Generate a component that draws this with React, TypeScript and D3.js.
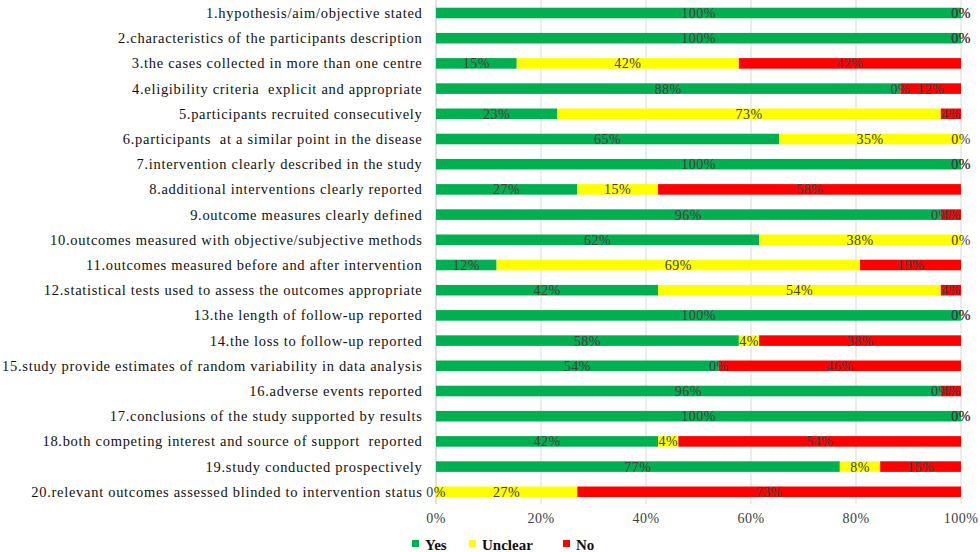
import React from "react";
import * as d3 from "d3";

const categories = [
  "1.hypothesis/aim/objective stated",
  "2.characteristics of the participants description",
  "3.the cases collected in more than one centre",
  "4.eligibility criteria  explicit and appropriate",
  "5.participants recruited consecutively",
  "6.participants  at a similar point in the disease",
  "7.intervention clearly described in the study",
  "8.additional interventions clearly reported",
  "9.outcome measures clearly defined",
  "10.outcomes measured with objective/subjective methods",
  "11.outcomes measured before and after intervention",
  "12.statistical tests used to assess the outcomes appropriate",
  "13.the length of follow-up reported",
  "14.the loss to follow-up reported",
  "15.study provide estimates of random variability in data analysis",
  "16.adverse events reported",
  "17.conclusions of the study supported by results",
  "18.both competing interest and source of support  reported",
  "19.study conducted prospectively",
  "20.relevant outcomes assessed blinded to intervention status",
];

const yesValues = [100, 100, 15.38, 88.46, 23.08, 65.38, 100, 26.92, 96.15, 61.54, 11.54, 42.31, 100, 57.69, 53.85, 96.15, 100, 42.31, 76.92, 0];
const unclearValues = [0, 0, 42.31, 0, 73.08, 34.62, 0, 15.38, 0, 38.46, 69.23, 53.85, 0, 3.85, 0, 0, 0, 3.85, 7.69, 26.92];
const noValues = [0, 0, 42.31, 11.54, 3.85, 0, 0, 57.69, 3.85, 0, 19.23, 3.85, 0, 38.46, 46.15, 3.85, 0, 53.85, 15.38, 73.08];

const seriesNames = ["Yes", "Unclear", "No"];
const seriesColors = ["#00B050", "#FFFF00", "#FF0000"];
const xTicks = [0, 20, 40, 60, 80, 100];

const W = 980;
const H = 552;
const SERIF = "'Liberation Serif', 'Times New Roman', serif";

export default function App() {
  const rows = categories.map((c, i) => ({
    cat: c,
    Yes: yesValues[i],
    Unclear: unclearValues[i],
    No: noValues[i],
  }));
  const stack = d3.stack<any>().keys(seriesNames);
  const stacked = stack(rows);

  const x = d3.scaleLinear().domain([0, 100]).range([436, 961]);
  const y = d3
    .scaleBand<string>()
    .domain(categories)
    .range([0.4, 504.4])
    .paddingInner(0.58)
    .paddingOuter(0.29);
  const bw = y.bandwidth();

  return (
    <svg
      width={W}
      height={H}
      style={{ position: "absolute", left: 0, top: 0, background: "#fff" }}
      fontFamily={SERIF}
    >
      {xTicks.map((t) => (
        <line
          key={"g" + t}
          x1={x(t)}
          x2={x(t)}
          y1={0}
          y2={504}
          stroke={t === 0 ? "#bfbfbf" : "#d9d9d9"}
          strokeWidth={1}
        />
      ))}
      {stacked.map((s, si) =>
        s.map((d, i) => (
          <rect
            key={si + "-" + i}
            x={x(d[0])}
            y={y(categories[i])!}
            width={Math.max(0, x(d[1]) - x(d[0]))}
            height={bw}
            fill={seriesColors[si]}
          />
        ))
      )}
      {stacked.map((s, si) =>
        s.map((d, i) => (
          <text
            key={"l" + si + "-" + i}
            x={(x(d[0]) + x(d[1])) / 2}
            y={y(categories[i])! + bw / 2 + 5}
            textAnchor="middle"
            fontSize={14}
            letterSpacing={0.5}
            fill="#404040"
          >
            {Math.round(d[1] - d[0]) + "%"}
          </text>
        ))
      )}
      {categories.map((c) => (
        <text
          key={"c" + c}
          x={422.5}
          y={y(c)! + bw / 2 + 5}
          textAnchor="end"
          fontSize={14.5}
          letterSpacing={0.7}
          fill="#111"
          style={{ whiteSpace: "pre" }}
        >
          {c}
        </text>
      ))}
      {xTicks.map((t) => (
        <text
          key={"t" + t}
          x={x(t)}
          y={523}
          textAnchor="middle"
          fontSize={14}
          letterSpacing={0.5}
          fill="#404040"
        >
          {t + "%"}
        </text>
      ))}
      {seriesNames.map((n, i) => {
        const lx = [412, 469, 563][i];
        return (
          <g key={"lg" + n}>
            <rect x={lx} y={540} width={7} height={7} fill={seriesColors[i]} />
            <text x={lx + 13} y={550} fontSize={15} fontWeight="bold" fill="#111">
              {n}
            </text>
          </g>
        );
      })}
    </svg>
  );
}
